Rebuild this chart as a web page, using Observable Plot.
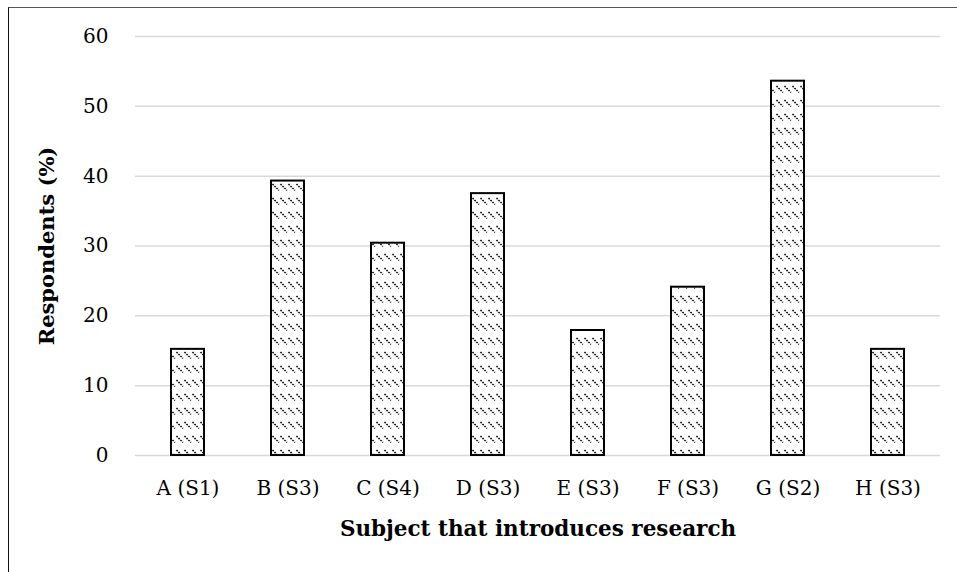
<!DOCTYPE html>
<html>
<head>
<meta charset="utf-8">
<script src="https://cdn.jsdelivr.net/npm/d3@7"></script>
<script src="https://cdn.jsdelivr.net/npm/@observablehq/plot@0.6"></script>
<style>
  html, body { margin: 0; padding: 0; background: #fff; }
  #wrap { position: relative; width: 957px; height: 572px; overflow: hidden; }
  #border { position: absolute; left: 8px; top: 7px; width: 1000px; height: 700px;
            border-top: 1.5px solid #555; border-left: 1.5px solid #111; box-sizing: border-box; }
  #chart { position: absolute; left: 0; top: 0; }
</style>
</head>
<body>
<div id="wrap"><div id="border"></div><div id="chart"></div></div>
<script>
const categories = ["A (S1)", "B (S3)", "C (S4)", "D (S3)", "E (S3)", "F (S3)", "G (S2)", "H (S3)"];
const values = [15.2, 39.3, 30.4, 37.5, 17.9, 24.1, 53.6, 15.2];
const yTicks = [0, 10, 20, 30, 40, 50, 60];
const xTitle = "Subject that introduces research";
const yTitle = "Respondents (%)";

const data = categories.map((c, i) => ({cat: c, value: values[i]}));
const font = "'DejaVu Serif', 'Liberation Serif', serif";

const chart = Plot.plot({
  width: 957,
  height: 572,
  marginLeft: 135,
  marginRight: 17,
  marginTop: 36,
  marginBottom: 117,
  style: {fontFamily: font, fontSize: "20px", color: "#000", background: "transparent"},
  x: {domain: categories, paddingInner: 0.67, paddingOuter: 0.335, label: null},
  y: {domain: [0, 60], ticks: yTicks, label: null},
  marks: [
    Plot.gridY(yTicks, {stroke: "#d9d9d9", strokeOpacity: 1, strokeWidth: 1.5}),
    Plot.axisY({ticks: yTicks, tickSize: 0, tickPadding: 27, label: null, fontSize: 20}),
    Plot.axisX({tickSize: 0, tickPadding: 25, label: null, fontSize: 20}),
    Plot.barY(data, {x: "cat", y: "value", fill: "url(#dashdiag)", stroke: "#000", strokeWidth: 2}),
    Plot.text([xTitle], {frameAnchor: "bottom", dy: 80, fontWeight: "bold", fontSize: 21.5}),
    Plot.text([yTitle], {frameAnchor: "left", textAnchor: "middle", dx: -88, rotate: -90, fontWeight: "bold", fontSize: 21})
  ]
});

const svg = d3.select(chart);
const defs = svg.insert("defs", ":first-child");
const pat = defs.append("pattern")
  .attr("id", "dashdiag")
  .attr("patternUnits", "userSpaceOnUse")
  .attr("width", 8).attr("height", 14);
pat.append("rect").attr("width", 8).attr("height", 14).attr("fill", "#fff");
pat.append("line")
  .attr("x1", 0.5).attr("y1", 2).attr("x2", 7).attr("y2", 8.5)
  .attr("stroke", "#000").attr("stroke-width", 1.5)
  .attr("stroke-dasharray", "1.6 1.2");

document.getElementById("chart").appendChild(chart);
</script>
</body>
</html>
